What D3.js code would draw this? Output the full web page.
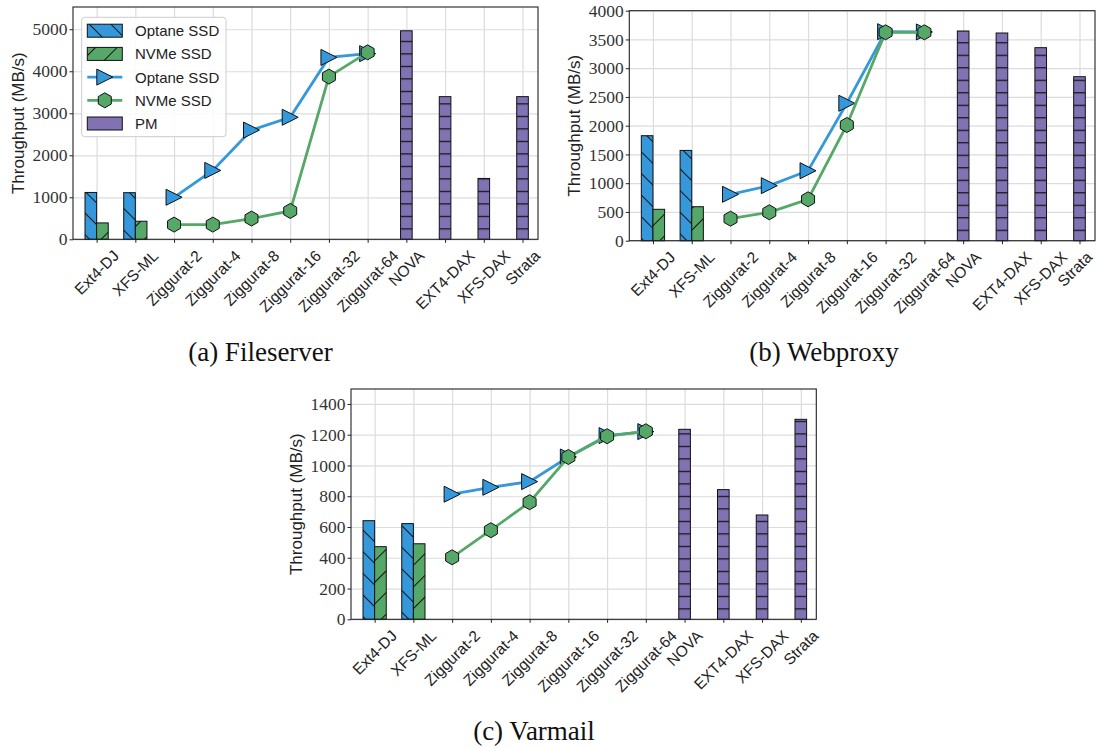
<!DOCTYPE html>
<html>
<head>
<meta charset="utf-8">
<script src="https://cdn.jsdelivr.net/npm/d3@7"></script>
<style>
  body { margin: 0; background: #fff; }
  svg { display: block; }
</style>
</head>
<body>
<svg id="chart" width="1097" height="748"></svg>
<script>
// x axis categories, same for the three workloads
const categories = ["Ext4-DJ", "XFS-ML", "Ziggurat-2", "Ziggurat-4", "Ziggurat-8", "Ziggurat-16",
                    "Ziggurat-32", "Ziggurat-64", "NOVA", "EXT4-DAX", "XFS-DAX", "Strata"];

// Fileserver
const fileserverOptaneBars = [1115, 1110];
const fileserverNvmeBars = [390, 430];
const fileserverOptaneLine = [1000, 1640, 2600, 2905, 4330, 4420];
const fileserverNvmeLine = [350, 350, 494, 675, 3874, 4450];
const fileserverPM = [4964, 3396, 1449, 3396];
const fileserverTicks = [0, 1000, 2000, 3000, 4000, 5000];

// Webproxy
const webproxyOptaneBars = [1826, 1570];
const webproxyNvmeBars = [546, 591];
const webproxyOptaneLine = [807, 957, 1217, 2390, 3635, 3630];
const webproxyNvmeLine = [383, 494, 720, 2012, 3624, 3624];
const webproxyPM = [3647, 3612, 3357, 2852];
const webproxyTicks = [0, 500, 1000, 1500, 2000, 2500, 3000, 3500, 4000];

// Varmail
const varmailOptaneBars = [641, 622];
const varmailNvmeBars = [472, 491];
const varmailOptaneLine = [813, 858, 895, 1055, 1194, 1220];
const varmailNvmeLine = [403, 579, 761, 1055, 1190, 1222];
const varmailPM = [1235, 843, 678, 1300];
const varmailTicks = [0, 200, 400, 600, 800, 1000, 1200, 1400];

const OPTANE = "#3498db", NVME = "#55a868", PMCOL = "#8172b3";
const svg = d3.select("#chart");
const defs = svg.append("defs");
const SVG_W = 1097;

// hatch patterns: "\" blue, "/" green, "-" purple
function diagPattern(id, fill, angle) {
  const p = defs.append("pattern").attr("id", id)
    .attr("patternUnits", "userSpaceOnUse")
    .attr("width", 15.3).attr("height", 15.3)
    .attr("patternTransform", `rotate(${angle})`);
  p.append("rect").attr("width", 15.3).attr("height", 15.3).attr("fill", fill);
  p.append("line").attr("x1", 0.5).attr("x2", 0.5).attr("y1", 0).attr("y2", 15.3)
    .attr("stroke", "#111").attr("stroke-width", 1);
}
diagPattern("hatchOptane", OPTANE, -45);
diagPattern("hatchNvme", NVME, 45);

function pmPattern(id, offset) {
  const p = defs.append("pattern").attr("id", id)
    .attr("patternUnits", "userSpaceOnUse")
    .attr("width", 20).attr("height", 12.5)
    .attr("patternTransform", `translate(0,${offset})`);
  p.append("rect").attr("width", 20).attr("height", 12.5).attr("fill", PMCOL);
  p.append("line").attr("x1", 0).attr("x2", 20).attr("y1", 0.6).attr("y2", 0.6)
    .attr("stroke", "#111").attr("stroke-width", 1.2);
}

const triPath = "M8,0L-8,-8L-8,8Z";
const hexPath = d3.line()(d3.range(6).map(k => {
  const a = (-90 + 60 * k) * Math.PI / 180;
  return [7.5 * Math.cos(a), 7.5 * Math.sin(a)];
})) + "Z";

function drawPanel(cfg) {
  const w = cfg.right - cfg.left, h = cfg.bottom - cfg.top;
  const g = svg.append("g").attr("transform", `translate(${cfg.left},${cfg.top})`);
  const x = d3.scaleLinear().domain([-0.61, 11.4]).range([0, w]);
  const y = d3.scaleLinear().domain([0, cfg.ymax]).range([h, 0]);
  const bw = x(0.3) - x(0);
  const pmId = "hatchPM_" + cfg.key;
  pmPattern(pmId, h - 11);

  // grid
  g.append("g").attr("transform", `translate(0,${h})`)
    .call(d3.axisBottom(x).tickValues(d3.range(12)).tickSize(-h).tickFormat(""))
    .call(a => a.select(".domain").remove())
    .selectAll("line").attr("stroke", "#dcdcdc").attr("stroke-width", 1.2);
  g.append("g")
    .call(d3.axisLeft(y).tickValues(cfg.ticks).tickSize(-w).tickFormat(""))
    .call(a => a.select(".domain").remove())
    .selectAll("line").attr("stroke", "#dcdcdc").attr("stroke-width", 1.2);

  // bars
  g.append("g").selectAll("rect").data(cfg.optaneBars).join("rect")
    .attr("x", (d, i) => x(i - 0.3)).attr("width", bw)
    .attr("y", d => y(d)).attr("height", d => h - y(d))
    .attr("fill", "url(#hatchOptane)").attr("stroke", "#111").attr("stroke-width", 1);
  g.append("g").selectAll("rect").data(cfg.nvmeBars).join("rect")
    .attr("x", (d, i) => x(i)).attr("width", bw)
    .attr("y", d => y(d)).attr("height", d => h - y(d))
    .attr("fill", "url(#hatchNvme)").attr("stroke", "#111").attr("stroke-width", 1);
  g.append("g").selectAll("rect").data(cfg.pm).join("rect")
    .attr("x", (d, i) => x(i + 8 - 0.15)).attr("width", bw)
    .attr("y", d => y(d)).attr("height", d => h - y(d))
    .attr("fill", `url(#${pmId})`).attr("stroke", "#111").attr("stroke-width", 1);

  // lines with markers
  const line = d3.line().x((d, i) => x(i + 2)).y(d => y(d));
  [[cfg.optaneLine, OPTANE, triPath], [cfg.nvmeLine, NVME, hexPath]].forEach(([vals, col, mk]) => {
    g.append("path").attr("d", line(vals)).attr("fill", "none")
      .attr("stroke", col).attr("stroke-width", 2.8);
    g.append("g").selectAll("path").data(vals).join("path")
      .attr("d", mk).attr("transform", (d, i) => `translate(${x(i + 2)},${y(d)})`)
      .attr("fill", col).attr("stroke", "#111").attr("stroke-width", 1);
  });

  // axes
  g.append("rect").attr("width", w).attr("height", h)
    .attr("fill", "none").attr("stroke", "#222").attr("stroke-width", 1.1);
  g.append("g").attr("transform", `translate(0,${h})`)
    .call(d3.axisBottom(x).tickValues(d3.range(12)).tickSize(3.5).tickFormat(""))
    .call(a => a.select(".domain").remove())
    .selectAll("line").attr("stroke", "#222");
  const ya = g.append("g")
    .call(d3.axisLeft(y).tickValues(cfg.ticks).tickSize(3.5).tickPadding(2).tickFormat(d3.format("d")))
    .call(a => a.select(".domain").remove());
  ya.selectAll("line").attr("stroke", "#222");
  ya.selectAll("text").attr("fill", "#333")
    .style("font-family", "'Liberation Serif', serif").style("font-size", "17.5px");

  g.append("text")
    .attr("transform", `translate(-54.5,${h / 2}) rotate(-90)`)
    .attr("text-anchor", "middle").attr("dominant-baseline", "central")
    .style("font-family", "'Liberation Sans', sans-serif").style("font-size", "17px")
    .attr("fill", "#222").text("Throughput (MB/s)");

  // rotated category labels, box centred under the tick (kept inside the page)
  g.append("g").selectAll("text").data(categories).join("text")
    .attr("text-anchor", "middle").attr("dominant-baseline", "central")
    .style("font-family", "'Liberation Sans', sans-serif").style("font-size", "15.5px")
    .attr("fill", "#222").text(d => d)
    .each(function(d, i) {
      const tw = this.getComputedTextLength();
      const half = (tw + 16) * Math.SQRT1_2 / 2;
      let cx = x(i);
      const over = cfg.left + cx + half - (SVG_W - 2);
      if (over > 0) cx -= over;
      const cy = h + 8 + half;
      d3.select(this).attr("x", cx).attr("y", cy).attr("transform", `rotate(-45,${cx},${cy})`);
    });

  svg.append("text").attr("x", cfg.capX).attr("y", cfg.capY)
    .attr("text-anchor", "middle")
    .style("font-family", "'Liberation Serif', serif").style("font-size", "27px")
    .attr("fill", "#111").text(cfg.caption);

  if (cfg.legend) {
    const lg = g.append("g").attr("transform", "translate(8.7,10.3)");
    lg.append("rect").attr("width", 144.3).attr("height", 119.4).attr("rx", 3)
      .attr("fill", "#fff").attr("fill-opacity", 0.85).attr("stroke", "#ccc");
    const items = [
      {label: "Optane SSD", kind: "bar", fill: "url(#hatchOptane)"},
      {label: "NVMe SSD", kind: "bar", fill: "url(#hatchNvme)"},
      {label: "Optane SSD", kind: "line", col: OPTANE, mk: triPath},
      {label: "NVMe SSD", kind: "line", col: NVME, mk: hexPath},
      {label: "PM", kind: "bar", fill: PMCOL}
    ];
    items.forEach((it, k) => {
      const cy = 13.4 + k * 23.2;
      if (it.kind === "bar") {
        lg.append("rect").attr("x", 5.6).attr("y", cy - 6.5).attr("width", 35).attr("height", 13)
          .attr("fill", it.fill).attr("stroke", "#111").attr("stroke-width", 1);
      } else {
        lg.append("line").attr("x1", 5.6).attr("x2", 40.6).attr("y1", cy).attr("y2", cy)
          .attr("stroke", it.col).attr("stroke-width", 2.8);
        lg.append("path").attr("d", it.mk).attr("transform", `translate(23.1,${cy})`)
          .attr("fill", it.col).attr("stroke", "#111").attr("stroke-width", 1);
      }
      lg.append("text").attr("x", 53.3).attr("y", cy).attr("dominant-baseline", "central")
        .style("font-family", "'Liberation Sans', sans-serif").style("font-size", "15px")
        .attr("fill", "#222").text(it.label);
    });
  }
}

drawPanel({key: "a", left: 73, right: 538, top: 7, bottom: 239.3, ymax: 5530,
  ticks: fileserverTicks, optaneBars: fileserverOptaneBars, nvmeBars: fileserverNvmeBars,
  optaneLine: fileserverOptaneLine, nvmeLine: fileserverNvmeLine, pm: fileserverPM,
  caption: "(a) Fileserver", capX: 260.5, capY: 361, legend: true});

drawPanel({key: "b", left: 629.3, right: 1095, top: 10.7, bottom: 240.7, ymax: 4000,
  ticks: webproxyTicks, optaneBars: webproxyOptaneBars, nvmeBars: webproxyNvmeBars,
  optaneLine: webproxyOptaneLine, nvmeLine: webproxyNvmeLine, pm: webproxyPM,
  caption: "(b) Webproxy", capX: 824, capY: 361, legend: false});

drawPanel({key: "c", left: 351, right: 816.3, top: 389, bottom: 619.3, ymax: 1497,
  ticks: varmailTicks, optaneBars: varmailOptaneBars, nvmeBars: varmailNvmeBars,
  optaneLine: varmailOptaneLine, nvmeLine: varmailNvmeLine, pm: varmailPM,
  caption: "(c) Varmail", capX: 534, capY: 740, legend: false});
</script>
</body>
</html>
